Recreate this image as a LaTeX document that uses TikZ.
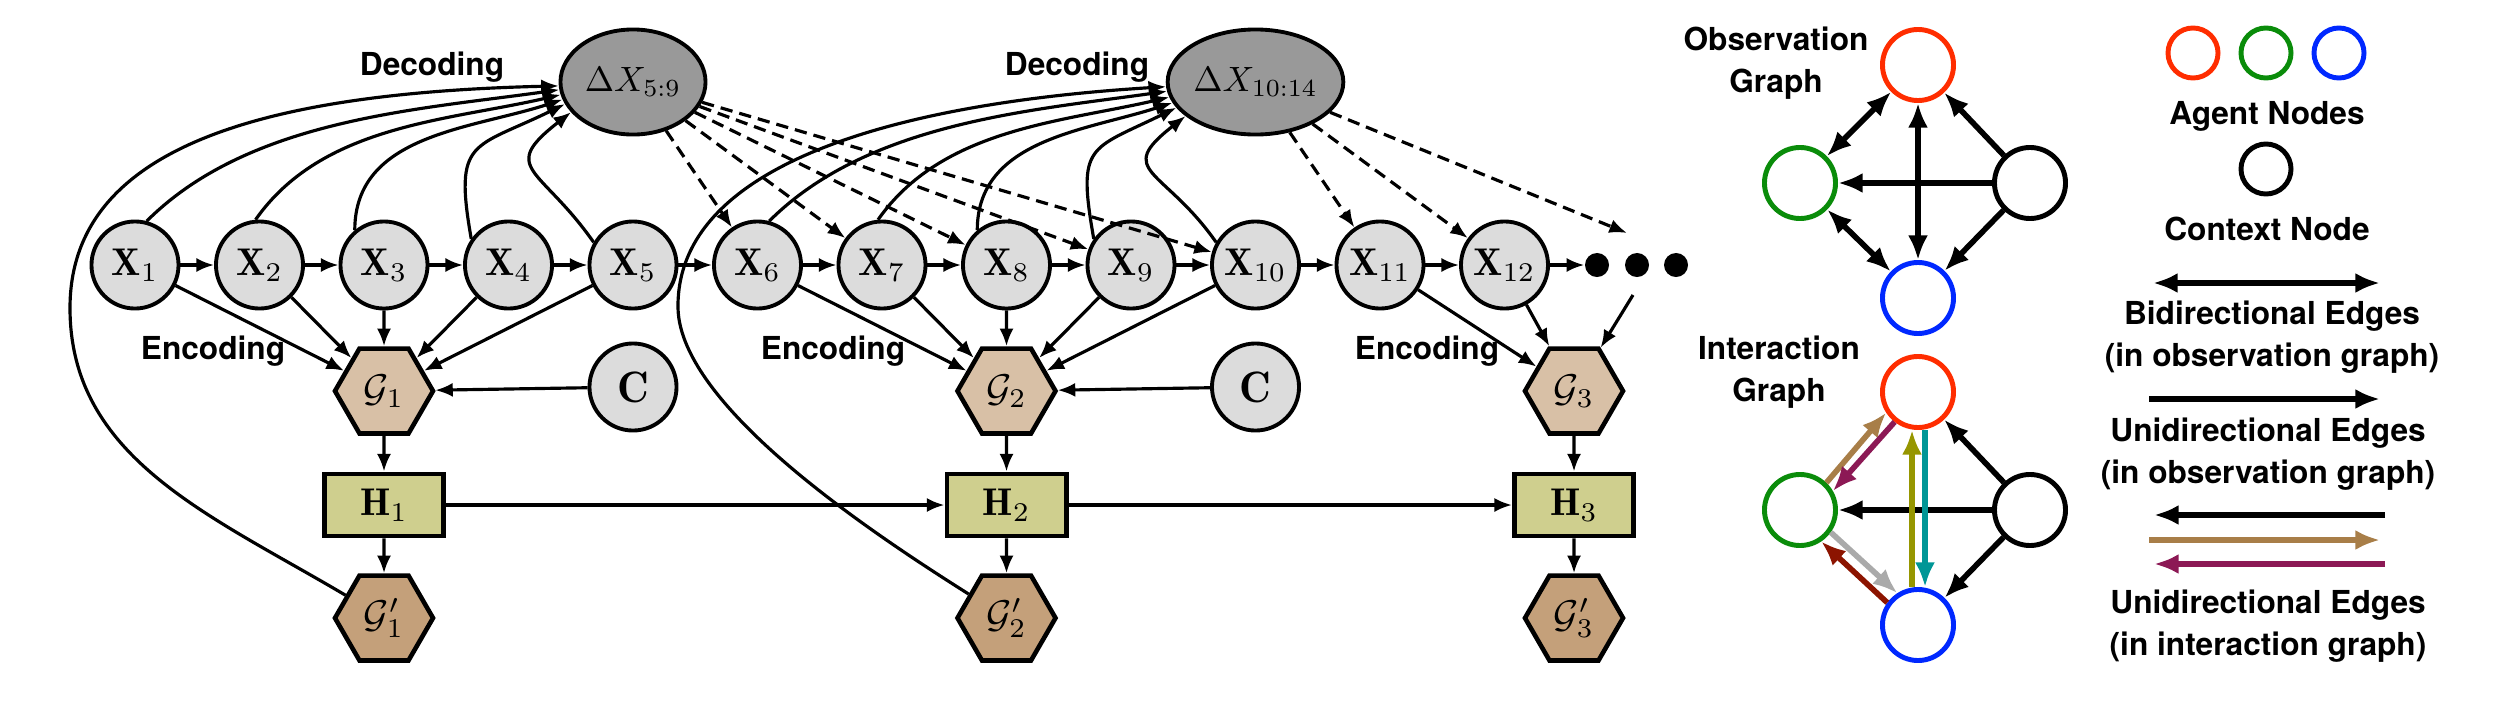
\RequirePackage{fix-cm}
\documentclass[tikz,border=0pt]{standalone}
\usepackage{fontspec}
\newfontfamily\labelfont{TeX Gyre Heros}
\usetikzlibrary{arrows.meta,shapes.geometric}

\definecolor{xfill}{RGB}{220,220,220}
\definecolor{dxfill}{RGB}{153,153,153}
\definecolor{gfill}{RGB}{216,192,166}
\definecolor{gpfill}{RGB}{196,160,122}
\definecolor{hfill}{RGB}{207,207,142}
\definecolor{agred}{RGB}{255,45,0}
\definecolor{aggreen}{RGB}{10,140,10}
\definecolor{agblue}{RGB}{0,40,255}
\definecolor{ebrown}{RGB}{168,126,72}
\definecolor{epurple}{RGB}{140,25,85}
\definecolor{eolive}{RGB}{150,150,0}
\definecolor{eteal}{RGB}{0,150,150}
\definecolor{egray}{RGB}{170,170,170}
\definecolor{edarkred}{RGB}{140,20,0}

\tikzset{
  smalltip/.tip={Latex[length=5pt,width=4pt]},
  bigtip/.tip={Latex[length=7pt,width=5.7pt]},
  arr/.style={-smalltip,line width=0.9pt},
  predarr/.style={arr,dash pattern=on 3.5pt off 2pt},
  gedge/.style={-bigtip,line width=1.6pt},
  gboth/.style={bigtip-bigtip,line width=1.6pt},
  xnode/.style={circle,draw,line width=1.1pt,fill=xfill,minimum size=8.7mm,inner sep=0pt,font=\fontsize{11}{13}\selectfont},
  cnode/.style={xnode,font=\fontsize{12.5}{14}\selectfont},
  dxnode/.style={ellipse,draw,line width=1.1pt,fill=dxfill,minimum width=14.5mm,minimum height=10.5mm,inner sep=0pt,font=\fontsize{10}{12}\selectfont},
  gnode/.style={regular polygon,regular polygon sides=6,draw,line width=1.3pt,fill=gfill,minimum size=9.8mm,inner sep=0pt,font=\fontsize{11}{13}\selectfont},
  gpnode/.style={gnode,fill=gpfill},
  hnode/.style={rectangle,draw,line width=1.4pt,fill=hfill,minimum width=11.9mm,minimum height=6.2mm,inner sep=0pt,font=\fontsize{11}{13}\selectfont},
  dotnode/.style={circle,fill,minimum size=2.4mm,inner sep=0pt},
  agent/.style={circle,draw,line width=1.4pt,minimum size=7.1mm,inner sep=0pt},
  lbl/.style={font=\labelfont\bfseries\fontsize{9}{12}\selectfont,align=center,inner sep=0pt}
}

\begin{document}
\begin{tikzpicture}[x=0.01cm,y=0.01cm]
    \useasboundingbox (0,0) rectangle (2496,708);

    % sequence
    \foreach \i in {1,...,12}
        \node[xnode] (x\i) at ({135+(\i-1)*124.5},443) {$\mathbf{X}_{\i}$};
    \node[dotnode] (d1) at (1597,443) {};
    \node[dotnode] (d2) at (1637,443) {};
    \node[dotnode] (d3) at (1676,443) {};
    \coordinate (dotsin) at (1627,475);
    \coordinate (dotsout) at (1633,413);
    \node[dxnode] (dxa) at (633,626) {$\Delta X_{5:9}$};
    \node[dxnode] (dxb) at (1255.5,626) {$\Delta X_{10:14}$};

    % graphs and hidden states
    \node[gnode] (g1) at (384,317) {$\mathcal{G}_1$};
    \node[gnode] (g2) at (1006.5,317) {$\mathcal{G}_2$};
    \node[gnode] (g3) at (1574,317) {$\mathcal{G}_3$};
    \node[cnode] (c1) at (633,321) {$\mathbf{C}$};
    \node[cnode] (c2) at (1255.5,321) {$\mathbf{C}$};
    \node[hnode] (h1) at (384,203) {$\mathbf{H}_1$};
    \node[hnode] (h2) at (1006.5,203) {$\mathbf{H}_2$};
    \node[hnode] (h3) at (1574,203) {$\mathbf{H}_3$};
    \node[gpnode] (gp1) at (384,90) {$\mathcal{G}'_1$};
    \node[gpnode] (gp2) at (1006.5,90) {$\mathcal{G}'_2$};
    \node[gpnode] (gp3) at (1574,90) {$\mathcal{G}'_3$};

    \node[lbl] (enc1) at (213,357) {Encoding};
    \node[lbl] (enc2) at (833,357) {Encoding};
    \node[lbl] (enc3) at (1427,357) {Encoding};
    \node[lbl] (dec1) at (432,641) {Decoding};
    \node[lbl] (dec2) at (1077,641) {Decoding};

    % chain
    \foreach \i in {1,...,11} {
        \pgfmathtruncatemacro{\j}{\i+1}
        \draw[arr] (x\i) -- (x\j);
    }
    \draw[arr] (x12) -- (d1);

    % encoding
    \foreach \i in {1,...,5} \draw[arr] (x\i) -- (g1);
    \foreach \i in {6,...,10} \draw[arr] (x\i) -- (g2);
    \draw[arr] (x11) -- (g3);
    \draw[arr] (x12) -- (g3);
    \draw[arr] (dotsout) -- (g3);
    \draw[arr] (c1) -- (g1);
    \draw[arr] (c2) -- (g2);
    \foreach \k in {1,2,3} {
        \draw[arr] (g\k) -- (h\k);
        \draw[arr] (h\k) -- (gp\k);
    }
    \draw[arr] (h1) -- (h2);
    \draw[arr] (h2) -- (h3);

    % decoding
    \foreach \i/\sa/\so/\si/\se/\lo in {1/75/45/188/186/0.85, 2/95/55/193/190/0.9, 3/130/90/198/194/1, 4/145/100/206/198/1.6, 5/150/125/218/206/1.8} {
        \pgfmathtruncatemacro{\j}{\i+5}
        \draw[arr] (x\i.\sa) to[out=\so,in=\si,looseness=\lo] (dxa.\se);
        \draw[arr] (x\j.\sa) to[out=\so,in=\si,looseness=\lo] (dxb.\se);
    }
    \draw[arr] (gp1) .. controls (210,193) and (70,250) .. (70,400) .. controls (70,560) and (260,615) .. (dxa.183);
    \draw[arr] (gp2) .. controls (880,170) and (680,300) .. (678,400) .. controls (676,545) and (900,605) .. (dxb.183);

    % prediction
    \foreach \i in {6,...,10} \draw[predarr] (dxa) -- (x\i);
    \draw[predarr] (dxb) -- (x11);
    \draw[predarr] (dxb) -- (x12);
    \draw[predarr] (dxb) -- (dotsin);

    % observation graph
    \node[lbl] (obstitle) at (1776,645) {Observation\\Graph};
    \node[agent,draw=agred] (ored) at (1918,643) {};
    \node[agent,draw=aggreen] (ogreen) at (1800,525) {};
    \node[agent] (oblack) at (2030,525) {};
    \node[agent,draw=agblue] (oblue) at (1918,410) {};
    \draw[gboth] (ored) -- (ogreen);
    \draw[gboth] (ogreen) -- (oblue);
    \draw[gboth] (oblue) -- (ored);
    \draw[gedge] (oblack) -- (ored);
    \draw[gedge] (oblack) -- (ogreen);
    \draw[gedge] (oblack) -- (oblue);

    % interaction graph
    \node[lbl] (inttitle) at (1779,336) {Interaction\\Graph};
    \node[agent,draw=agred] (ired) at (1918,316) {};
    \node[agent,draw=aggreen] (igreen) at (1800,198) {};
    \node[agent] (iblack) at (2030,198) {};
    \node[agent,draw=agblue] (iblue) at (1918,83) {};
    \draw[gedge] (iblack) -- (ired);
    \draw[gedge] (iblack) -- (igreen);
    \draw[gedge] (iblack) -- (iblue);
    \draw[gedge,ebrown] (igreen.46) -- (ired.213);
    \draw[gedge,epurple] (ired.232) -- (igreen.30);
    \draw[gedge,eolive] ([xshift=-0.6mm]iblue.north) -- ([xshift=-0.6mm]ired.south);
    \draw[gedge,eteal] ([xshift=0.7mm]ired.south) -- ([xshift=0.7mm]iblue.north);
    \draw[gedge,egray] (igreen.-36) -- (iblue.123);
    \draw[gedge,edarkred] (iblue.144) -- (igreen.-56);

    % legend
    \node[agent,draw=agred,minimum size=5mm] (lred) at (2193,655) {};
    \node[agent,draw=aggreen,minimum size=5mm] (lgreen) at (2266,655) {};
    \node[agent,draw=agblue,minimum size=5mm] (lblue) at (2339,655) {};
    \node[lbl] (agentlbl) at (2267,592) {Agent Nodes};
    \node[agent,minimum size=5mm] (lctx) at (2266,539) {};
    \node[lbl] (ctxlbl) at (2267,479) {Context Node};
    \coordinate (bia) at (2153,425);
    \coordinate (bib) at (2380,425);
    \draw[gboth] (bia) -- (bib);
    \node[lbl] (bilbl) at (2272,371) {Bidirectional Edges\\(in observation graph)};
    \coordinate (uoa) at (2149,309);
    \coordinate (uob) at (2380,309);
    \draw[gedge] (uoa) -- (uob);
    \node[lbl] (uolbl) at (2268,254) {Unidirectional Edges\\(in observation graph)};
    \coordinate (uia) at (2385,193);
    \coordinate (uib) at (2154,193);
    \coordinate (uic) at (2149,168);
    \coordinate (uid) at (2380,168);
    \coordinate (uie) at (2385,144);
    \coordinate (uif) at (2154,144);
    \draw[gedge] (uia) -- (uib);
    \draw[gedge,ebrown] (uic) -- (uid);
    \draw[gedge,epurple] (uie) -- (uif);
    \node[lbl] (uilbl) at (2268,82) {Unidirectional Edges\\(in interaction graph)};
\end{tikzpicture}
\end{document}
